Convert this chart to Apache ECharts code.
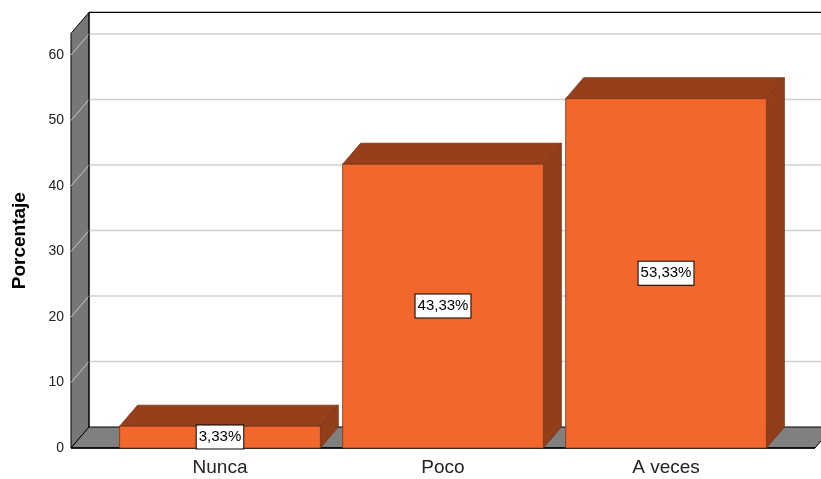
<!DOCTYPE html>
<html>
<head>
<meta charset="utf-8">
<script src="https://cdn.jsdelivr.net/npm/echarts@6/dist/echarts.min.js"></script>
<style>html,body{margin:0;padding:0;background:#fff;}#c{width:821px;height:479px;}</style>
</head>
<body>
<div id="c"></div>
<script>
const categories = ['Nunca', 'Poco', 'A veces'];
const percentages = [3.33, 43.33, 53.33];
const yTicks = [0, 10, 20, 30, 40, 50, 60];
const yAxisName = 'Porcentaje';

const YMAX = 63.3;
const XMIN = -0.668, XMAX = 2.668;
const BAR_HALF = 0.45;
const D = [18, -21];
const FONT = '"Liberation Sans", Arial, sans-serif';

function add(p, d) { return [p[0] + d[0], p[1] + d[1]]; }
function fmt(v) { return v.toFixed(2).replace('.', ',') + '%'; }

const chart = echarts.init(document.getElementById('c'), null, { renderer: 'canvas' });

const option = {
  backgroundColor: '#ffffff',
  animation: false,
  grid: [
    { left: 71, right: 6, top: 33.4, bottom: 31, containLabel: false, outerBoundsMode: 'none' },
    { left: 108.5, right: 43.5, top: 33.4, bottom: 31, containLabel: false, outerBoundsMode: 'none' }
  ],
  xAxis: [
    { type: 'value', gridIndex: 0, min: XMIN, max: XMAX, show: false },
    {
      type: 'category', gridIndex: 1, data: categories,
      axisLine: { show: false }, axisTick: { show: false },
      axisLabel: { fontSize: 19, color: '#222', fontFamily: FONT, margin: 10 }
    }
  ],
  yAxis: [
    {
      type: 'value', gridIndex: 0, min: 0, max: YMAX, interval: 10,
      axisLine: { show: false }, axisTick: { show: false }, splitLine: { show: false },
      axisLabel: {
        fontSize: 14, color: '#222', fontFamily: FONT, margin: 7, showMaxLabel: false,
        formatter: v => (yTicks.indexOf(v) >= 0 ? String(v) : '')
      },
      name: yAxisName, nameLocation: 'middle', nameGap: 42,
      nameTextStyle: { fontSize: 19, fontWeight: 'bold', color: '#000', fontFamily: FONT }
    },
    { type: 'value', gridIndex: 1, min: 0, max: YMAX, show: false }
  ],
  series: [
    {
      type: 'custom',
      xAxisIndex: 0, yAxisIndex: 0,
      data: [[0, 0]],
      z: 1,
      renderItem: function (params, api) {
        const fl0 = api.coord([XMIN, 0]);
        const flT = api.coord([XMIN, YMAX]);
        const fr0 = api.coord([XMAX, 0]);
        const frT = api.coord([XMAX, YMAX]);
        const children = [];
        children.push({
          type: 'polygon',
          shape: { points: [fl0, flT, add(flT, D), add(fl0, D)] },
          style: { fill: '#777777', stroke: '#000', lineWidth: 1 }
        });
        yTicks.forEach(v => {
          if (v === 0) return;
          const a = api.coord([XMIN, v]);
          const b = api.coord([XMAX, v]);
          children.push({
            type: 'line',
            shape: { x1: a[0] + D[0], y1: a[1] + D[1], x2: b[0] + D[0] + 20, y2: b[1] + D[1] },
            style: { stroke: '#d0d0d0', lineWidth: 1.5 }
          });
          children.push({
            type: 'line',
            shape: { x1: a[0], y1: a[1], x2: a[0] + D[0], y2: a[1] + D[1] },
            style: { stroke: '#c8c8c8', lineWidth: 1 }
          });
        });
        children.push({
          type: 'line',
          shape: { x1: flT[0] + D[0], y1: flT[1] + D[1], x2: frT[0] + D[0] + 20, y2: frT[1] + D[1] },
          style: { stroke: '#000', lineWidth: 1.2 }
        });
        children.push({
          type: 'line',
          shape: { x1: flT[0] + D[0], y1: flT[1] + D[1], x2: fl0[0] + D[0], y2: fl0[1] + D[1] },
          style: { stroke: '#000', lineWidth: 1 }
        });
        children.push({
          type: 'polygon',
          shape: { points: [fl0, add(fl0, D), add(fr0, D), fr0] },
          style: { fill: '#808080', stroke: '#000', lineWidth: 1 }
        });
        children.push({
          type: 'line',
          shape: { x1: fl0[0], y1: fl0[1], x2: fr0[0], y2: fr0[1] },
          style: { stroke: '#000', lineWidth: 1.5 }
        });
        return { type: 'group', children: children };
      }
    },
    {
      type: 'custom',
      xAxisIndex: 0, yAxisIndex: 0,
      data: percentages.map((v, i) => [i, v]),
      encode: { x: 0, y: 1 },
      z: 2,
      renderItem: function (params, api) {
        const x = api.value(0), v = api.value(1);
        const fl = api.coord([x - BAR_HALF, 0]);
        const fr = api.coord([x + BAR_HALF, 0]);
        const tl = api.coord([x - BAR_HALF, v]);
        const tr = api.coord([x + BAR_HALF, v]);
        const edge = '#7a3414';
        return {
          type: 'group',
          children: [
            {
              type: 'polygon',
              shape: { points: [tr, fr, add(fr, D), add(tr, D)] },
              style: { fill: '#933e1b', stroke: edge, lineWidth: 0.8 }
            },
            {
              type: 'polygon',
              shape: { points: [tl, tr, add(tr, D), add(tl, D)] },
              style: { fill: '#953f1b', stroke: edge, lineWidth: 0.8 }
            },
            {
              type: 'polygon',
              shape: { points: [tl, tr, fr, fl] },
              style: { fill: '#f2682c', stroke: edge, lineWidth: 0.8 }
            },
            {
              type: 'text',
              z2: 10,
              style: {
                text: fmt(v),
                x: (tl[0] + tr[0]) / 2,
                y: (tl[1] + fl[1]) / 2,
                align: 'center', verticalAlign: 'middle',
                fill: '#000', fontSize: 15, fontFamily: FONT,
                backgroundColor: '#ffffff', borderColor: '#000', borderWidth: 1,
                padding: [4, 2]
              }
            }
          ]
        };
      }
    }
  ]
};

chart.setOption(option);
</script>
</body>
</html>
